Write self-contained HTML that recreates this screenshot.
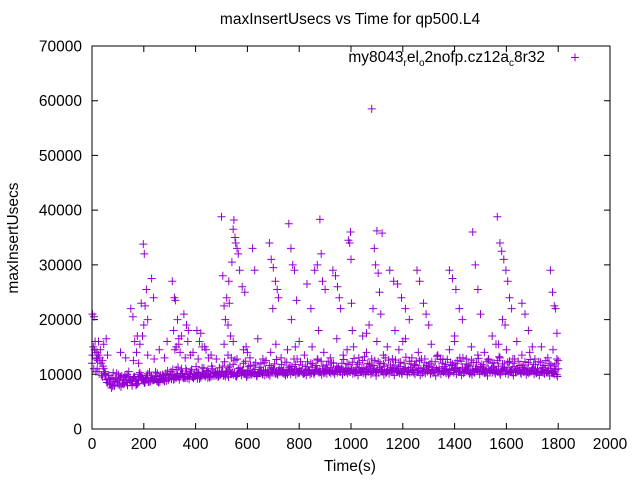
<!DOCTYPE html>
<html><head><meta charset="utf-8"><style>
html,body{margin:0;padding:0;background:#fff;}
svg{display:block;font-family:"Liberation Sans",sans-serif;}
</style></head><body>
<svg id="chart" width="640" height="480" viewBox="0 0 640 480" xmlns="http://www.w3.org/2000/svg">
<text x="350" y="24" font-size="15.5" text-anchor="middle">maxInsertUsecs vs Time for qp500.L4</text>
<text x="18" y="238" font-size="15.5" text-anchor="middle" transform="rotate(-90 18 238)">maxInsertUsecs</text>
<text x="350" y="471" font-size="15.5" text-anchor="middle">Time(s)</text>
<g id="axes"></g>
<g id="points"></g>
<rect x="92" y="46" width="518" height="383" fill="none" stroke="#000" stroke-width="1"/>
<g>
<text x="545" y="62" font-size="15.5" text-anchor="end">my8043<tspan font-size="10" dy="4">r</tspan><tspan dy="-4">el</tspan><tspan font-size="10" dy="4">o</tspan><tspan dy="-4">2nofp.cz12a</tspan><tspan font-size="10" dy="4">c</tspan><tspan dy="-4">8r32</tspan></text>
<path d="M571 57.5h8M575 53.5v8" stroke="#9400d3" stroke-width="1"/>
</g>
</svg>
<script>
const xTicks=[0,200,400,600,800,1000,1200,1400,1600,1800,2000];
const yTicks=[0,10000,20000,30000,40000,50000,60000,70000];
const bandAStart=0, bandAStep=10;
const bandAValues=[12000,14500,11000,13000,9500,10500,
8500,9000,7800,9200,8800,9500,8200,9000,9600,8700,9300,8000,9100,9800,8900,9400,8600,9700,9000,8800,9500,9200,8700,9900,
9400,10000,9200,9800,9600,10200,9300,9900,10100,9500,9700,10300,9400,10000,9800,10500,9600,10200,10000,9700,
10200,9900,10500,10800,10000,10300,9800,10600,10400,10100,10700,9900,10300,10900,10200,10500,10000,10800,10400,10600,11000,10200,10700,10500,10900,10300,11200,10600,10400,10800,11100,10500,10200,10900,10700,11300,10400,10800,10600,11000,10300,10900,11200,10500,10700,11000,10400,10800,11100,10600,
11000,10600,11300,10800,10500,11200,10900,11400,10700,11000,10600,11300,10800,11500,10900,10700,11200,11000,10600,11400,10800,11100,10500,11300,10900,11600,10700,11000,11200,10800,11500,10600,11300,10900,11100,10700,11400,11000,10800,11600,10900,11200,10600,11300,11000,10800,11500,10700,11100,10900,11400,11200,10600,11000,10800,11300,10700,11500,10900,11100,10600,11200,10800,11400,11000,10700,11300,10900,11100,10500,11200,10800,11000,10600,11300,10900,10700,11100,10500,10800,11000];
const bandBStart=5, bandBStep=10;
const bandBValues=[15000,10500,13500,12000,11000,9000,
9800,7500,8600,10200,8000,9700,8400,10000,8900,7900,9500,8300,10300,9100,8500,10100,8700,9300,10400,8600,9800,8900,10200,9000,
10500,9000,10800,9500,11000,9300,10600,9100,10900,9600,10400,9200,11200,9800,10700,9400,11000,9700,10500,9900,
11500,9600,11200,10000,11800,9700,11000,10400,12000,9900,11400,10200,11700,9800,11300,10500,12100,10000,11600,10300,11900,10100,11200,10600,12200,10000,11500,10400,11800,10200,12300,10100,11400,10700,12000,10300,11600,10500,12400,10200,11700,10600,12100,10300,11500,10800,12000,10400,11900,10500,
12200,10200,11800,10500,12500,10300,12000,10700,11600,10400,12300,10600,11900,10200,12600,10500,11700,10800,12200,10300,12000,10600,12400,10400,11800,10700,12500,10200,12100,10500,11900,10800,12300,10400,12700,10600,11800,10300,12200,10700,12000,10500,12400,10200,11900,10800,12600,10400,12100,10600,11800,10300,12300,10700,12000,10500,12500,10200,11900,10800,12200,10400,12000,10600,12400,10300,11700,10700,12100,10500,11800,10200,12300,10600,11600,10400,12000,10300,11500,9900];
const bandCStart=2, bandCStep=10;
const bandCValues=[13500,16000,12500,14500,11500,10000,
9200,8100,10300,8700,9900,7700,9400,8500,10500,8800,9600,8200,10000,9300,8400,9700,10400,8900,9200,10200,8600,9900,9400,10600,
9800,10900,9500,11300,10100,9400,11000,9900,10600,9300,11400,10200,9700,11100,10500,9600,11500,10300,9800,11200,
10600,12300,9900,11500,10300,12600,10100,11200,10800,12400,9800,11600,10500,12100,10200,11900,10700,12500,10000,11300,10900,12700,10400,11800,10100,12200,10600,11400,10900,12800,10300,11700,10500,12300,10000,11900,10800,12600,10400,11500,10700,12400,10200,12000,10600,11300,10900,12700,10500,11800,
10800,12900,10400,12100,11000,13200,10600,11800,10300,12500,10900,12000,10500,13000,10700,11700,10400,12600,11100,12200,10600,13100,10800,11900,10300,12400,11000,12800,10500,11600,10900,12300,10400,13300,10700,12000,10600,12700,10200,11800,11000,12500,10500,13000,10800,11700,10300,12200,10900,12900,10600,11500,10400,12600,11000,12100,10700,13200,10500,11900,10800,12400,10300,12800,10600,11600,10900,12300,10400,12700,10800,11800,10500,12200,10300,12500,10600,11700,10200,11900];
const bandDStart=7, bandDStep=10;
const bandDValues=[11000,12800,10500,9800,10200,8500,
8300,9400,7900,8800,9100,8400,9800,8000,9300,8700,9000,8300,9500,8800,9200,8600,9400,8900,9600,8500,9100,9700,8800,9300,
9100,9700,9400,9000,10100,9600,9300,9900,9500,10000,9200,9800,10300,9600,9400,10100,9700,10400,9500,9900,
9700,10400,9500,10100,9900,9600,10300,9800,10200,9500,10500,9900,10100,9600,10400,10000,9800,10300,9700,10600,10100,9900,10500,10200,9800,10700,10000,10400,9900,10300,10600,10100,9800,10500,10200,10000,10800,10300,9900,10600,10100,10400,10700,10000,10300,10500,9900,10600,10200,10400,
10100,10400,9800,10600,10200,9900,10500,10000,10700,9700,10300,10600,9900,10400,10100,10800,9800,10500,10200,10000,10600,9900,10300,10700,10000,10400,9800,10500,10200,10900,10100,10300,9700,10600,10000,10400,10200,9900,10700,10300,10000,10500,9800,10400,10600,10100,9900,10300,10800,10000,10500,10200,9700,10600,10300,10100,10400,9900,10700,10200,10000,10500,9800,10300,10600,10100,10400,9900,10200,10700,10000,10300,9800,10500,10100,10400,9700,10200,10000,9600];
const outlierTimes=[2,8,5,15,20,25,30,
150,158,165,172,180,190,198,202,205,210,215,200,195,
230,238,310,318,322,330,315,325,335,340,355,365,372,380,
405,415,425,440,450,
500,505,520,530,540,545,548,552,555,560,510,515,525,535,565,570,580,590,595,600,528,538,
620,628,685,692,700,708,715,720,698,
760,768,775,782,790,770,785,
830,845,860,870,880,885,890,900,875,
930,940,948,955,960,
990,995,998,1000,1002,1005,
1080,1100,1120,1090,1095,1105,1110,1085,1115,1070,1060,
1150,1165,1180,1195,1210,1225,1170,1200,
1255,1265,1280,1290,1300,
1380,1392,1405,1418,1430,1400,
1470,1480,1490,1500,
1565,1575,1582,1590,1598,1605,1612,1620,1585,1595,1570,
1660,1672,1685,1700,
1770,1778,1785,1790,1795,1800,
20,30,40,45,55,60,
110,130,160,175,185,215,240,260,280,290,
320,335,345,360,370,390,410,420,435,460,480,
510,525,545,560,585,610,640,660,690,710,730,755,780,800,820,850,870,895,920,945,970,985,
1010,1030,1045,1060,1080,1100,1125,1140,1160,1185,1210,1235,1260,1285,1310,1335,1355,1380,1400,1420,1445,1465,1490,1515,1530,1545,1560,1575,1600,1625,1640,1660,1690,1710,1735,1760,1780,1795];
const outlierValues=[21000,20500,15000,14000,13000,16000,12500,
22000,20500,16000,14000,12000,23000,33800,32000,22500,25500,20000,19000,17000,
27500,24000,27000,24000,23500,20000,18000,15000,16500,14000,21000,19000,18000,13500,
18000,16000,15000,14500,13000,
38800,28000,24000,23000,30500,36500,38200,35000,34000,33000,22500,20000,19000,17000,32000,29000,26000,25000,15000,14000,27000,13000,
33000,29000,34000,31000,29500,27000,25500,24000,22000,
37500,33000,30000,29000,23500,20000,15000,
26500,22000,29000,30000,38300,32000,27000,25500,18000,
29000,28000,26000,24000,22000,
34500,34000,36000,31000,23000,18000,
58500,36200,35800,33000,30000,28500,25000,22000,21000,19000,17500,
29000,27000,26500,24000,22000,20000,18000,16000,
29000,27000,23000,21000,19000,
29000,27500,25500,22000,20000,17000,
36000,30000,25500,21000,
38800,34000,32500,31000,29000,27000,24000,22000,20000,19000,15500,
23000,21000,18000,15000,
29000,25000,22500,22000,17500,12500,
14000,13000,12500,15500,16500,13500,
14000,13000,12500,17000,15500,13500,12800,14500,13000,16000,
14500,15500,17000,13000,16000,14000,12800,17500,15000,13500,12800,
15500,13500,16000,12800,14500,13000,16500,12800,14000,15500,13000,14500,12800,16000,13500,15000,12800,14000,13000,16500,13500,14500,
15000,13000,17000,14000,12800,16000,13500,15000,12800,14500,16500,13000,14000,12800,15500,13500,12800,14500,16000,13000,12800,15000,13500,14000,12800,17000,15500,13000,14500,12800,16000,13500,14000,12800,15000,13000,14500,12800];

const NS='http://www.w3.org/2000/svg';
const X0=92,X1=610,Y0=429,Y1=46;
function xScale(t){return X0+(t-0)/(2000-0)*(X1-X0);}
function yScale(v){return Y0-(v-0)/(70000-0)*(Y0-Y1);}
const axes=document.getElementById('axes');
const pts=document.getElementById('points');
xTicks.forEach(function(t){
  const x=xScale(t);
  const tk=document.createElementNS(NS,'path');
  tk.setAttribute('d','M'+x+' '+Y0+'v-6M'+x+' '+Y1+'v6');
  tk.setAttribute('stroke','#000');
  
  
  axes.appendChild(tk);
  const lb=document.createElementNS(NS,'text');
  lb.setAttribute('x',x);lb.setAttribute('y',449);
  lb.setAttribute('font-size','15.5');lb.setAttribute('text-anchor','middle');
  lb.textContent=t;
  
  
  axes.appendChild(lb);
});
yTicks.forEach(function(v){
  const y=yScale(v);
  const tk=document.createElementNS(NS,'path');
  tk.setAttribute('d','M'+X0+' '+y+'h6M'+X1+' '+y+'h-6');
  tk.setAttribute('stroke','#000');
  
  
  axes.appendChild(tk);
  const lb=document.createElementNS(NS,'text');
  lb.setAttribute('x',82);lb.setAttribute('y',y+5.5);
  lb.setAttribute('font-size','15.5');lb.setAttribute('text-anchor','end');
  lb.textContent=v;
  
  
  axes.appendChild(lb);
});
let d='';
function add(t,v){const x=xScale(t),y=yScale(v);d+='M'+(x-4).toFixed(1)+' '+y.toFixed(1)+'h8M'+x.toFixed(1)+' '+(y-4).toFixed(1)+'v8';}
bandAValues.forEach(function(v,i){add(bandAStart+i*bandAStep,v);});
bandBValues.forEach(function(v,i){add(bandBStart+i*bandBStep,v);});
bandCValues.forEach(function(v,i){add(bandCStart+i*bandCStep,v);});
bandDValues.forEach(function(v,i){add(bandDStart+i*bandDStep,v);});
outlierTimes.forEach(function(t,i){add(t,outlierValues[i]);});
const p=document.createElementNS(NS,'path');
p.setAttribute('d',d);p.setAttribute('stroke','#9400d3');p.setAttribute('stroke-width','1');p.setAttribute('fill','none');


pts.appendChild(p);
</script>
</body></html>
